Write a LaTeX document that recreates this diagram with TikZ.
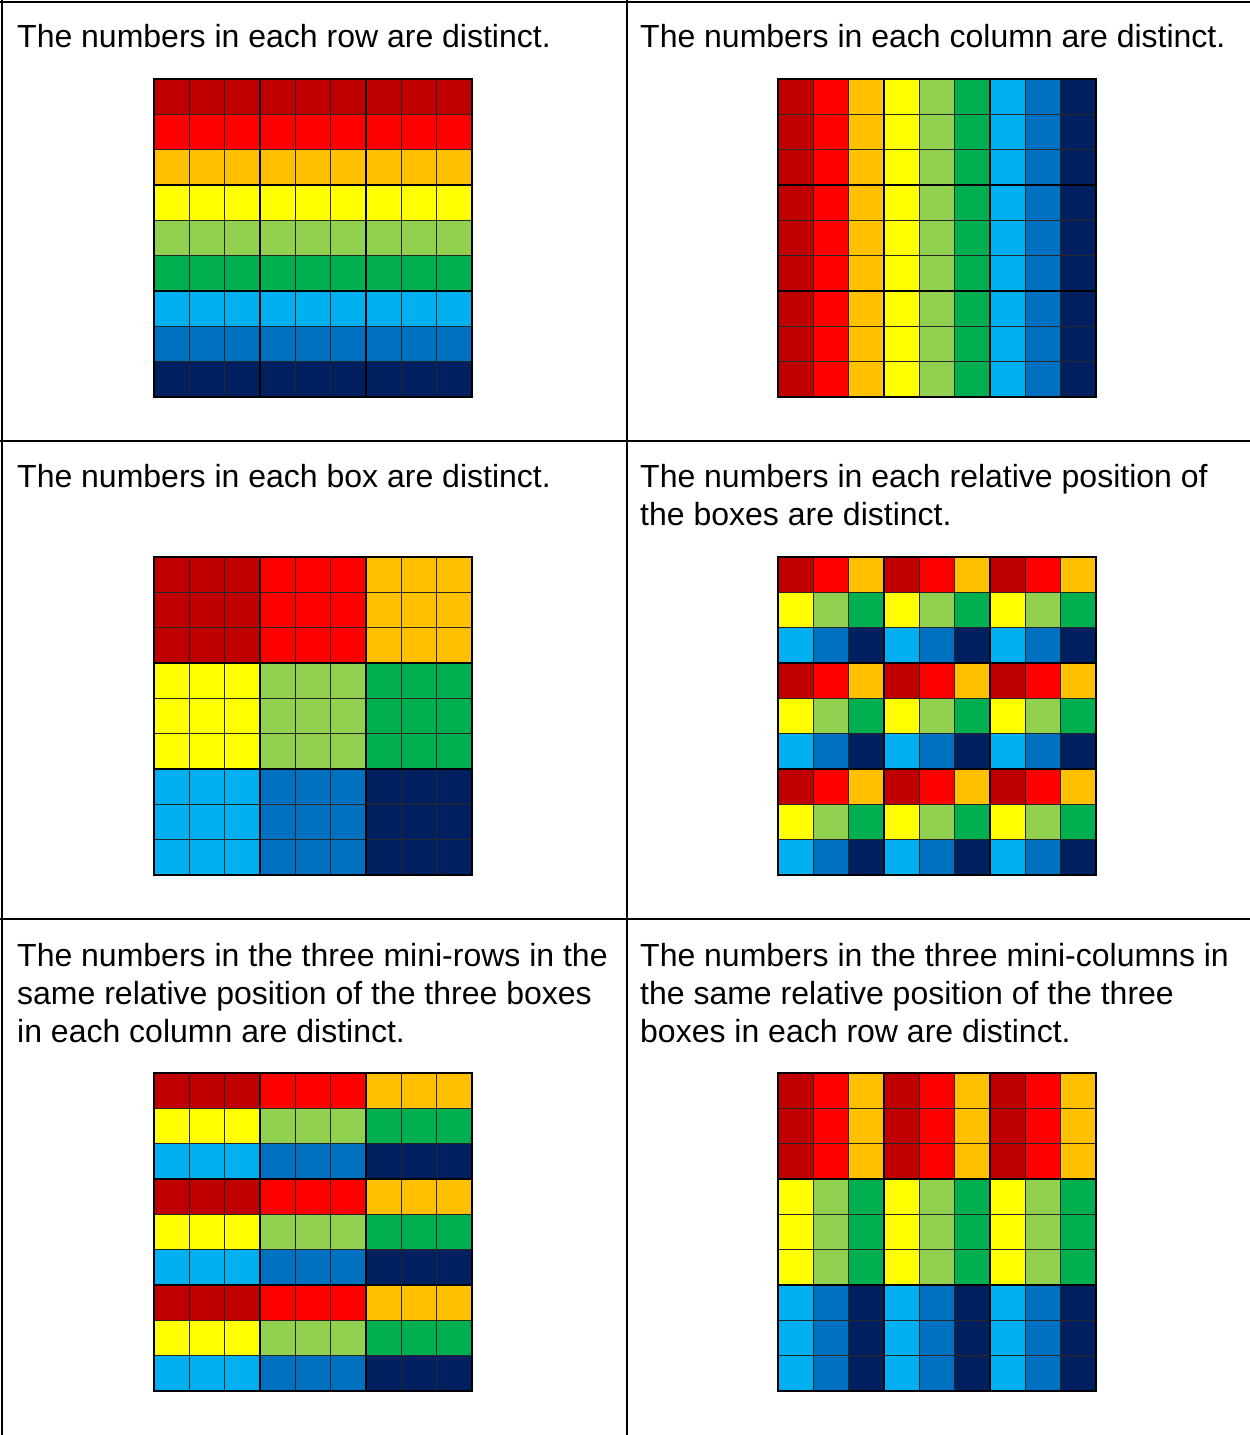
\documentclass[tikz,border=0pt]{standalone}
\usepackage{fontspec}
\setmainfont{Liberation Sans}
\usepackage{tikz}
\definecolor{sud1}{HTML}{C00000}
\definecolor{sud2}{HTML}{FF0000}
\definecolor{sud3}{HTML}{FFC000}
\definecolor{sud4}{HTML}{FFFF00}
\definecolor{sud5}{HTML}{92D050}
\definecolor{sud6}{HTML}{00B050}
\definecolor{sud7}{HTML}{00B0F0}
\definecolor{sud8}{HTML}{0070C0}
\definecolor{sud9}{HTML}{002060}
\tikzset{
  rule/.style   ={draw=black, line width=2.5pt},
  cellln/.style ={draw=black!85, line width=1.1pt},
  boxln/.style  ={draw=black, line width=2pt},
  frameln/.style={draw=black, line width=2.6pt},
  caption/.style={anchor=north west, inner sep=0pt, align=left,
                  font=\fontsize{32}{38}\selectfont},
}
\newcommand{\cellsz}{35.333}
\newcommand{\sudgrid}[3]{%
  \begin{scope}[shift={(#1,#2)}]
  \foreach \rw in {0,...,8}
    \foreach \cl in {0,...,8} {
      \pgfmathtruncatemacro{\k}{#3}
      \fill[sud\k] (\cl*\cellsz,\rw*\cellsz) rectangle ++(\cellsz,\cellsz);
    }
  \foreach \i in {1,2,4,5,7,8} {
    \draw[cellln] (\i*\cellsz,0) -- (\i*\cellsz,9*\cellsz);
    \draw[cellln] (0,\i*\cellsz) -- (9*\cellsz,\i*\cellsz);
  }
  \foreach \i in {3,6} {
    \draw[boxln] (\i*\cellsz,0) -- (\i*\cellsz,9*\cellsz);
    \draw[boxln] (0,\i*\cellsz) -- (9*\cellsz,\i*\cellsz);
  }
  \draw[frameln] (0,0) rectangle (9*\cellsz,9*\cellsz);
  \end{scope}}
\begin{document}
\begin{tikzpicture}[x=1pt,y=-1pt]
  \useasboundingbox (0,0) rectangle (1250,1435);
  \fill[white] (0,0) rectangle (1250,1435);
  % table rules
  \draw[rule] (2,0) -- (2,1435);
  \draw[rule] (627,0) -- (627,1435);
  \draw[rule] (0,2) -- (1250,2);
  \draw[rule] (0,441) -- (1250,441);
  \draw[rule] (0,919) -- (1250,919);
  % captions
  \node[caption] (capRow) at (17,24) {The numbers in each row are distinct.};
  \node[caption] (capCol) at (640,24) {The numbers in each column are distinct.};
  \node[caption] (capBox) at (17,464) {The numbers in each box are distinct.};
  \node[caption] (capPos) at (640,464) {The numbers in each relative position of\\the boxes are distinct.};
  \node[caption] (capMiniRow) at (17,943) {The numbers in the three mini-rows in the\\same relative position of the three boxes\\in each column are distinct.};
  \node[caption] (capMiniCol) at (640,943) {The numbers in the three mini-columns in\\the same relative position of the three\\boxes in each row are distinct.};
  % grids
  \sudgrid{154}{79}{\rw+1}
  \sudgrid{778}{79}{\cl+1}
  \sudgrid{154}{557}{3*floor(\rw/3)+floor(\cl/3)+1}
  \sudgrid{778}{557}{3*mod(\rw,3)+mod(\cl,3)+1}
  \sudgrid{154}{1073}{3*mod(\rw,3)+floor(\cl/3)+1}
  \sudgrid{778}{1073}{3*floor(\rw/3)+mod(\cl,3)+1}
\end{tikzpicture}
\end{document}
